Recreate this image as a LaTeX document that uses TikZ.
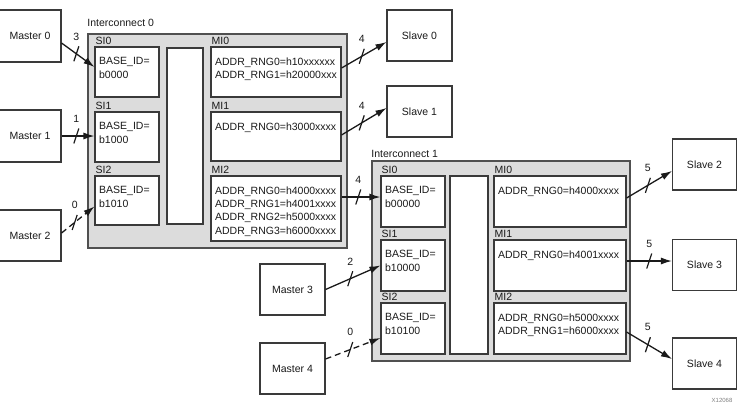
\documentclass[tikz,border=0pt]{standalone}
\usepackage{fontspec}
\setmainfont{Liberation Sans}
\usetikzlibrary{arrows.meta}

\definecolor{boxgray}{HTML}{3A3A3A}
\definecolor{icgray}{HTML}{505050}
\definecolor{icfill}{HTML}{DCDCDC}
\definecolor{ink}{HTML}{1A1A1A}

\tikzset{
  every node/.style={font=\fontsize{10.5}{13.3}\selectfont, text=ink},
  unit/.style={draw=boxgray, line width=1.1pt, fill=white, minimum width=65pt, minimum height=51pt, inner sep=0pt},
  icbox/.style={draw=icgray, line width=1.5pt, fill=icfill, inner sep=0pt},
  port/.style={draw=boxgray, line width=1.1pt, fill=white, inner sep=0pt},
  portlbl/.style={anchor=south west, inner sep=0pt},
  info/.style={anchor=north west, align=left, inner sep=0pt},
  bus/.style={draw=ink, line width=1.3pt, -{Latex[length=11pt,width=7pt]}},
  buslbl/.style={above=13pt, inner sep=0pt},
  slash/.style={draw=ink, line width=1.2pt},
}

\begin{document}
\begin{tikzpicture}[x=1pt,y=-1pt]
\useasboundingbox (0,0) rectangle (741,405);

% masters and slaves
\node[unit, minimum width=62pt, minimum height=52pt] (m0) at (30,36) {Master 0};
\node[unit, minimum width=62pt, minimum height=52pt] (m1) at (30,136) {Master 1};
\node[unit, minimum width=62pt] (m2) at (30,235.5) {Master 2};
\node[unit] (m3) at (292.5,289.5) {Master 3};
\node[unit] (m4) at (292.5,368.5) {Master 4};
\node[unit] (s0) at (419.5,35.5) {Slave 0};
\node[unit] (s1) at (419.5,111.5) {Slave 1};
\node[unit, minimum width=64pt] (s2) at (704.5,164.5) {Slave 2};
\node[unit, minimum width=64pt] (s3) at (704.5,265) {Slave 3};
\node[unit, minimum width=64pt] (s4) at (704.5,363.5) {Slave 4};

% interconnect 0
\node[icbox, minimum width=259pt, minimum height=214pt] (ic0) at (217.5,141) {};
\node[portlbl, yshift=6pt] (ic0lbl) at (ic0.north west) {Interconnect 0};
\node[port, minimum width=64pt, minimum height=50pt] (si00) at (127,72) {};
\node[port, minimum width=64pt, minimum height=50pt] (si10) at (127,137) {};
\node[port, minimum width=64pt, minimum height=49pt] (si20) at (127,200.5) {};
\node[port, minimum width=36pt, minimum height=176pt] (xb0) at (185,136) {};
\node[port, minimum width=130pt, minimum height=50pt] (mi00) at (276,72) {};
\node[port, minimum width=130pt, minimum height=49pt] (mi10) at (276,136.5) {};
\node[port, minimum width=130pt, minimum height=65pt] (mi20) at (276,208.5) {};

% interconnect 1
\node[icbox, minimum width=258pt, minimum height=200pt] (ic1) at (501,261) {};
\node[portlbl, yshift=2pt] (ic1lbl) at (ic1.north west) {Interconnect 1};
\node[port, minimum width=64pt, minimum height=51pt] (si01) at (413,201.5) {};
\node[port, minimum width=64pt, minimum height=51pt] (si11) at (413,265.5) {};
\node[port, minimum width=64pt, minimum height=51pt] (si21) at (413,328.5) {};
\node[port, minimum width=38pt, minimum height=178pt] (xb1) at (469,265) {};
\node[port, minimum width=132pt, minimum height=51pt] (mi01) at (560,201.5) {};
\node[port, minimum width=132pt, minimum height=51pt] (mi11) at (560,265.5) {};
\node[port, minimum width=132pt, minimum height=51pt] (mi21) at (560,328.5) {};

% port names and contents
\foreach \p/\t in {si00/SI0, si10/SI1, si20/SI2, mi00/MI0, mi10/MI1, mi20/MI2,
                   si01/SI0, si11/SI1, si21/SI2, mi01/MI0, mi11/MI1, mi21/MI2}
  \node[portlbl] (\p lbl) at ([xshift=1pt,yshift=1.5pt]\p.north west) {\t};

\foreach \p/\t in {si00/{BASE\_ID=\\b0000}, si10/{BASE\_ID=\\b1000}, si20/{BASE\_ID=\\b1010},
                   mi00/{ADDR\_RNG0=h10xxxxxx\\ADDR\_RNG1=h20000xxx},
                   mi10/{ADDR\_RNG0=h3000xxxx},
                   mi20/{ADDR\_RNG0=h4000xxxx\\ADDR\_RNG1=h4001xxxx\\ADDR\_RNG2=h5000xxxx\\ADDR\_RNG3=h6000xxxx},
                   si01/{BASE\_ID=\\b00000}, si11/{BASE\_ID=\\b10000}, si21/{BASE\_ID=\\b10100},
                   mi01/{ADDR\_RNG0=h4000xxxx}, mi11/{ADDR\_RNG0=h4001xxxx},
                   mi21/{ADDR\_RNG0=h5000xxxx\\ADDR\_RNG1=h6000xxxx}}
  \node[info] (\p txt) at ([shift={(4.5,11)}]\p.north west) {\t};

% buses
\coordinate (mi20out) at ([yshift=11.5pt]mi20.east);
\coordinate (mi11out) at ([yshift=4.5pt]mi11.east);

\draw[bus] ([yshift=-7pt]m0.east) -- coordinate[pos=.45] (b0) node[buslbl,pos=.45] (n0) {3} ([yshift=5pt]si00.west);
\draw[bus] (m1.east) -- coordinate[pos=.45] (b1) node[buslbl,pos=.45] (n1) {1} (m1.east -| si10.west);
\draw[bus, dash pattern=on 6pt off 4pt] ([yshift=2.5pt]m2.east) -- coordinate[pos=.4] (b2) node[buslbl,pos=.4] (n2) {0} ([yshift=-6pt]si20.west);
\draw[bus] ([yshift=4pt]mi00.east) -- coordinate[pos=.45] (b3) node[buslbl,pos=.45] (n3) {4} ([yshift=-6.5pt]s0.west);
\draw[bus] ([yshift=1.5pt]mi10.east) -- coordinate[pos=.45] (b4) node[buslbl,pos=.45] (n4) {4} ([yshift=3.5pt]s1.west);
\draw[bus] (mi20out) -- coordinate[pos=.43] (b5) node[buslbl,pos=.43] (n5) {4} (mi20out -| si01.west);
\draw[bus] (m3.east) -- coordinate[pos=.45] (b6) node[buslbl,pos=.45] (n6) {2} (si11.west);
\draw[bus, dash pattern=on 6pt off 4pt] ([yshift=9.5pt]m4.east) -- coordinate[pos=.45] (b7) node[buslbl,pos=.45] (n7) {0} ([yshift=-9.5pt]si21.west);
\draw[bus] ([yshift=3.5pt]mi01.east) -- coordinate[pos=.47] (b8) node[buslbl,pos=.47] (n8) {5} ([yshift=-6.5pt]s2.west);
\draw[bus] (mi11out) -- coordinate[pos=.5] (b9) node[buslbl,pos=.5] (n9) {5} (mi11out -| s3.west);
\draw[bus] ([yshift=-3.5pt]mi21.east) -- coordinate[pos=.47] (b10) node[buslbl,pos=.47] (n10) {5} ([yshift=4.5pt]s4.west);

\foreach \b in {b0,b1,b2,b3,b4,b5,b6,b7,b8,b9,b10}
  \draw[slash] ([shift={(-2.5,7.5)}]\b) -- ([shift={(2.5,-7.5)}]\b);

\node[font=\fontsize{6}{7}\selectfont, text=gray] (fig) at (722,400) {X12068};
\end{tikzpicture}
\end{document}
